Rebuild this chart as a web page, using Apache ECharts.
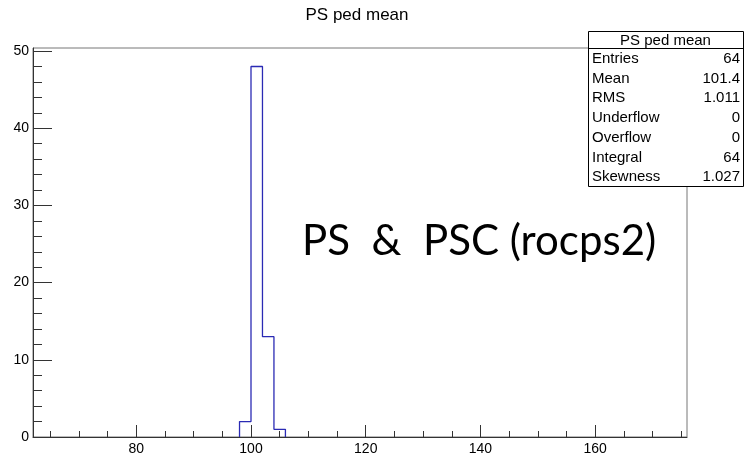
<!DOCTYPE html>
<html>
<head>
<meta charset="utf-8">
<script src="https://cdn.jsdelivr.net/npm/echarts@6/dist/echarts.min.js"></script>
<style>
html,body{margin:0;padding:0;background:#fff;}
#chart{width:751px;height:461px;}
</style>
</head>
<body>
<div id="chart"></div>
<script>
// ---- data ----
const binLowEdges = [98, 100, 102, 104];
const binWidth = 2;
const binCounts = [2, 48, 13, 1];
const xRange = [62, 176];
const yRange = [0, 50.4];
const xMajorTicks = [80, 100, 120, 140, 160];
const xMinorTicks = [65, 70, 75, 85, 90, 95, 105, 110, 115, 125, 130, 135, 145, 150, 155, 165, 170, 175];
const yMajorTicks = [0, 10, 20, 30, 40, 50];
const yMinorTicks = [2, 4, 6, 8, 12, 14, 16, 18, 22, 24, 26, 28, 32, 34, 36, 38, 42, 44, 46, 48];
const titleText = 'PS ped mean';
const statsLabels = ['Entries', 'Mean', 'RMS', 'Underflow', 'Overflow', 'Integral', 'Skewness'];
const statsValues = ['64', '101.4', '1.011', '0', '0', '64', '1.027'];
const annotation = 'PS  &  PSC (rocps2)';

// histogram outline built from bins
const outline = [];
outline.push([binLowEdges[0], 0]);
binLowEdges.forEach((lo, i) => {
  outline.push([lo, binCounts[i]]);
  outline.push([lo + binWidth, binCounts[i]]);
});
outline.push([binLowEdges[binLowEdges.length - 1] + binWidth, 0]);

const FONT = '"Liberation Sans", Arial, sans-serif';
const axisCol = '#333';

const chart = echarts.init(document.getElementById('chart'), null, {renderer: 'canvas'});

// stats box geometry
const bx = 588, by = 31, bw = 155, bh = 155, headH = 17;
const rowH = (bh - headH) / statsLabels.length;
const graphics = [
  {type: 'text', x: 357, y: 15, style: {text: titleText, font: '17px ' + FONT, fill: '#000', textAlign: 'center', textVerticalAlign: 'middle'}},
  {type: 'rect', shape: {x: bx + 0.5, y: by + 0.5, width: bw, height: bh}, style: {fill: '#fff', stroke: '#000', lineWidth: 1}, z: 10},
  {type: 'line', shape: {x1: bx, y1: by + headH + 0.5, x2: bx + bw, y2: by + headH + 0.5}, style: {stroke: '#000', lineWidth: 1}, z: 11},
  {type: 'text', x: bx + bw / 2, y: by + headH / 2 + 1, style: {text: titleText, font: '15px ' + FONT, fill: '#000', textAlign: 'center', textVerticalAlign: 'middle'}, z: 11},
  {type: 'text', x: 302, y: 262, style: {text: annotation, font: '42px Lato, "Open Sans", sans-serif', fill: '#000', textAlign: 'left', textVerticalAlign: 'bottom'}, z: 11}
];
statsLabels.forEach((lab, i) => {
  const cy = by + headH + rowH * (i + 0.5) + 1;
  graphics.push({type: 'text', x: bx + 4, y: cy, style: {text: lab, font: '15px ' + FONT, fill: '#000', textAlign: 'left', textVerticalAlign: 'middle'}, z: 11});
  graphics.push({type: 'text', x: bx + bw - 3, y: cy, style: {text: statsValues[i], font: '15px ' + FONT, fill: '#000', textAlign: 'right', textVerticalAlign: 'middle'}, z: 11});
});

const option = {
  animation: false,
  backgroundColor: '#fff',
  grid: {left: 33, right: 64, top: 48, bottom: 24, show: true, borderColor: '#777', borderWidth: 1, backgroundColor: 'transparent'},
  xAxis: [
    {type: 'value', min: xRange[0], max: xRange[1], position: 'bottom',
      axisLine: {show: true, onZero: false, lineStyle: {color: axisCol}},
      axisTick: {show: true, inside: true, length: 12, customValues: xMajorTicks, lineStyle: {color: axisCol}},
      axisLabel: {show: true, customValues: xMajorTicks, margin: 5, color: '#000', fontSize: 14, fontFamily: FONT},
      splitLine: {show: false}},
    {type: 'value', min: xRange[0], max: xRange[1], position: 'bottom',
      axisLine: {show: false, onZero: false},
      axisTick: {show: true, inside: true, length: 6, customValues: xMinorTicks, lineStyle: {color: axisCol}},
      axisLabel: {show: false},
      splitLine: {show: false}}
  ],
  yAxis: [
    {type: 'value', min: yRange[0], max: yRange[1], position: 'left',
      axisLine: {show: true, onZero: false, lineStyle: {color: axisCol}},
      axisTick: {show: true, inside: true, length: 19, customValues: yMajorTicks, lineStyle: {color: axisCol}},
      axisLabel: {show: true, customValues: yMajorTicks, margin: 4, color: '#000', fontSize: 14, fontFamily: FONT},
      splitLine: {show: false}},
    {type: 'value', min: yRange[0], max: yRange[1], position: 'left', offset: 0,
      axisLine: {show: false, onZero: false},
      axisTick: {show: true, inside: true, length: 9, customValues: yMinorTicks, lineStyle: {color: axisCol}},
      axisLabel: {show: false},
      splitLine: {show: false}}
  ],
  series: [{
    type: 'line', xAxisIndex: 0, yAxisIndex: 0, data: outline,
    showSymbol: false, symbol: 'none',
    lineStyle: {color: '#2a2ab4', width: 1.3},
    z: 5
  }],
  graphic: graphics
};
chart.setOption(option);
</script>
</body>
</html>
